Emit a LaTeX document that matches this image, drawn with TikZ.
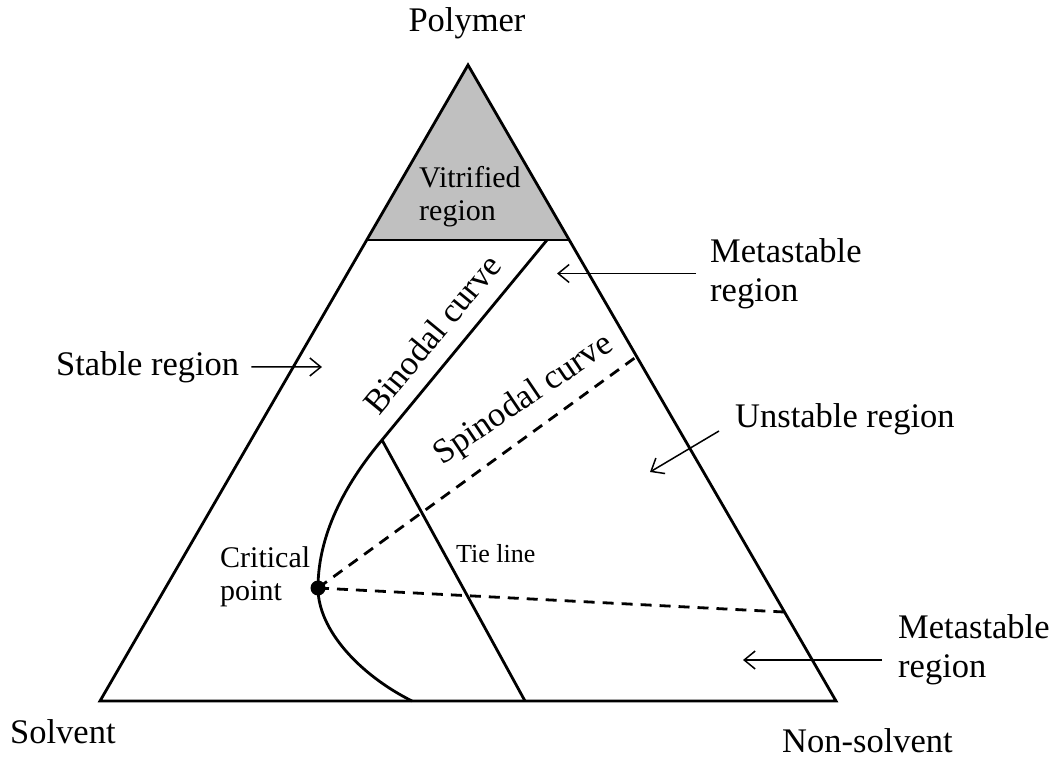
\documentclass[tikz,border=0pt]{standalone}
\usepackage{fontspec}
\setmainfont{Liberation Serif}
\usetikzlibrary{arrows.meta}
\definecolor{vitgray}{RGB}{192,192,192}
\begin{document}
\begin{tikzpicture}[x=1pt,y=-1pt,
  edge/.style={line width=2.8pt, line join=miter},
  dashln/.style={line width=2.8pt, dash pattern=on 11pt off 8pt},
  ptr/.style={line width=1.5pt, -{Straight Barb[length=11pt,width=18pt,line width=1.5pt]}},
  big/.style={font=\fontsize{34.5}{39}\selectfont, inner sep=0pt, align=left},
  small/.style={font=\fontsize{30}{33}\selectfont, inner sep=0pt, align=left}]
\useasboundingbox (0,0) rectangle (1054,760);
% triangle
\coordinate (P) at (468,65);
\coordinate (S) at (100,701);
\coordinate (N) at (836,701);
\coordinate (VL) at (367,240);
\coordinate (VR) at (569,240);
\fill[vitgray] (P) -- (VL) -- (VR) -- cycle;
\draw[edge] (VL) -- (VR);
\draw[edge] (P) -- (S) -- (N) -- cycle;
% binodal
\coordinate (B1) at (547,240);
\coordinate (B2) at (382,440);
\coordinate (B3) at (412,701);
\node[circle, fill, inner sep=0pt, minimum size=15pt] (cp) at (318,588) {};
\draw[edge, line join=round] (B1) -- (B2) .. controls (350,478) and (318,530) .. (cp.center) .. controls (318,630) and (360,675) .. (B3);
% tie line
\coordinate (T1) at (525,701);
\draw[edge] (B2) -- (T1);
% dashed lines
\coordinate (SP) at (636,357);
\coordinate (M2) at (784,612);
\draw[dashln] (cp.center) -- (SP);
\draw[dashln] (cp.center) -- (M2);
% labels
\node[big, anchor=base] (poly) at (467,32) {Polymer};
\node[big, anchor=base west] (solv) at (10,743) {Solvent};
\node[big, anchor=base west] (nons) at (782,752) {Non-solvent};
\node[small, anchor=west] (vit) at (419,196.5) {Vitrified\\region};
\node[big, anchor=west] (meta1) at (710,273.5) {Metastable\\region};
\node[big, anchor=west] (meta2) at (898,649.5) {Metastable\\region};
\node[big, anchor=base west] (stab) at (56,375) {Stable region};
\node[big, anchor=base west] (unst) at (735,427) {Unstable region};
\node[small, anchor=west] (crit) at (220,576.5) {Critical\\point};
\node[font=\fontsize{26}{30}\selectfont, inner sep=0pt, anchor=base west] (tie) at (456,562) {Tie line};
\node[big, rotate=50.5] (bin) at (432,334) {Binodal curve};
\node[big, rotate=34] (spin) at (524,400) {Spinodal curve};
% arrows
\coordinate (a1e) at (322,367);
\draw[ptr, shorten <=12pt] (stab.east) -- (a1e);
\coordinate (a2e) at (557,273.5);
\draw[ptr, shorten <=14pt] (meta1.west) -- (a2e);
\coordinate (a3e) at (650,472);
\draw[ptr] ([xshift=-16pt,yshift=-4pt]unst.base west) -- (a3e);
\coordinate (a4e) at (743,660);
\draw[ptr] ([xshift=-16pt,yshift=-10.5pt]meta2.west) -- (a4e);
\end{tikzpicture}
\end{document}
